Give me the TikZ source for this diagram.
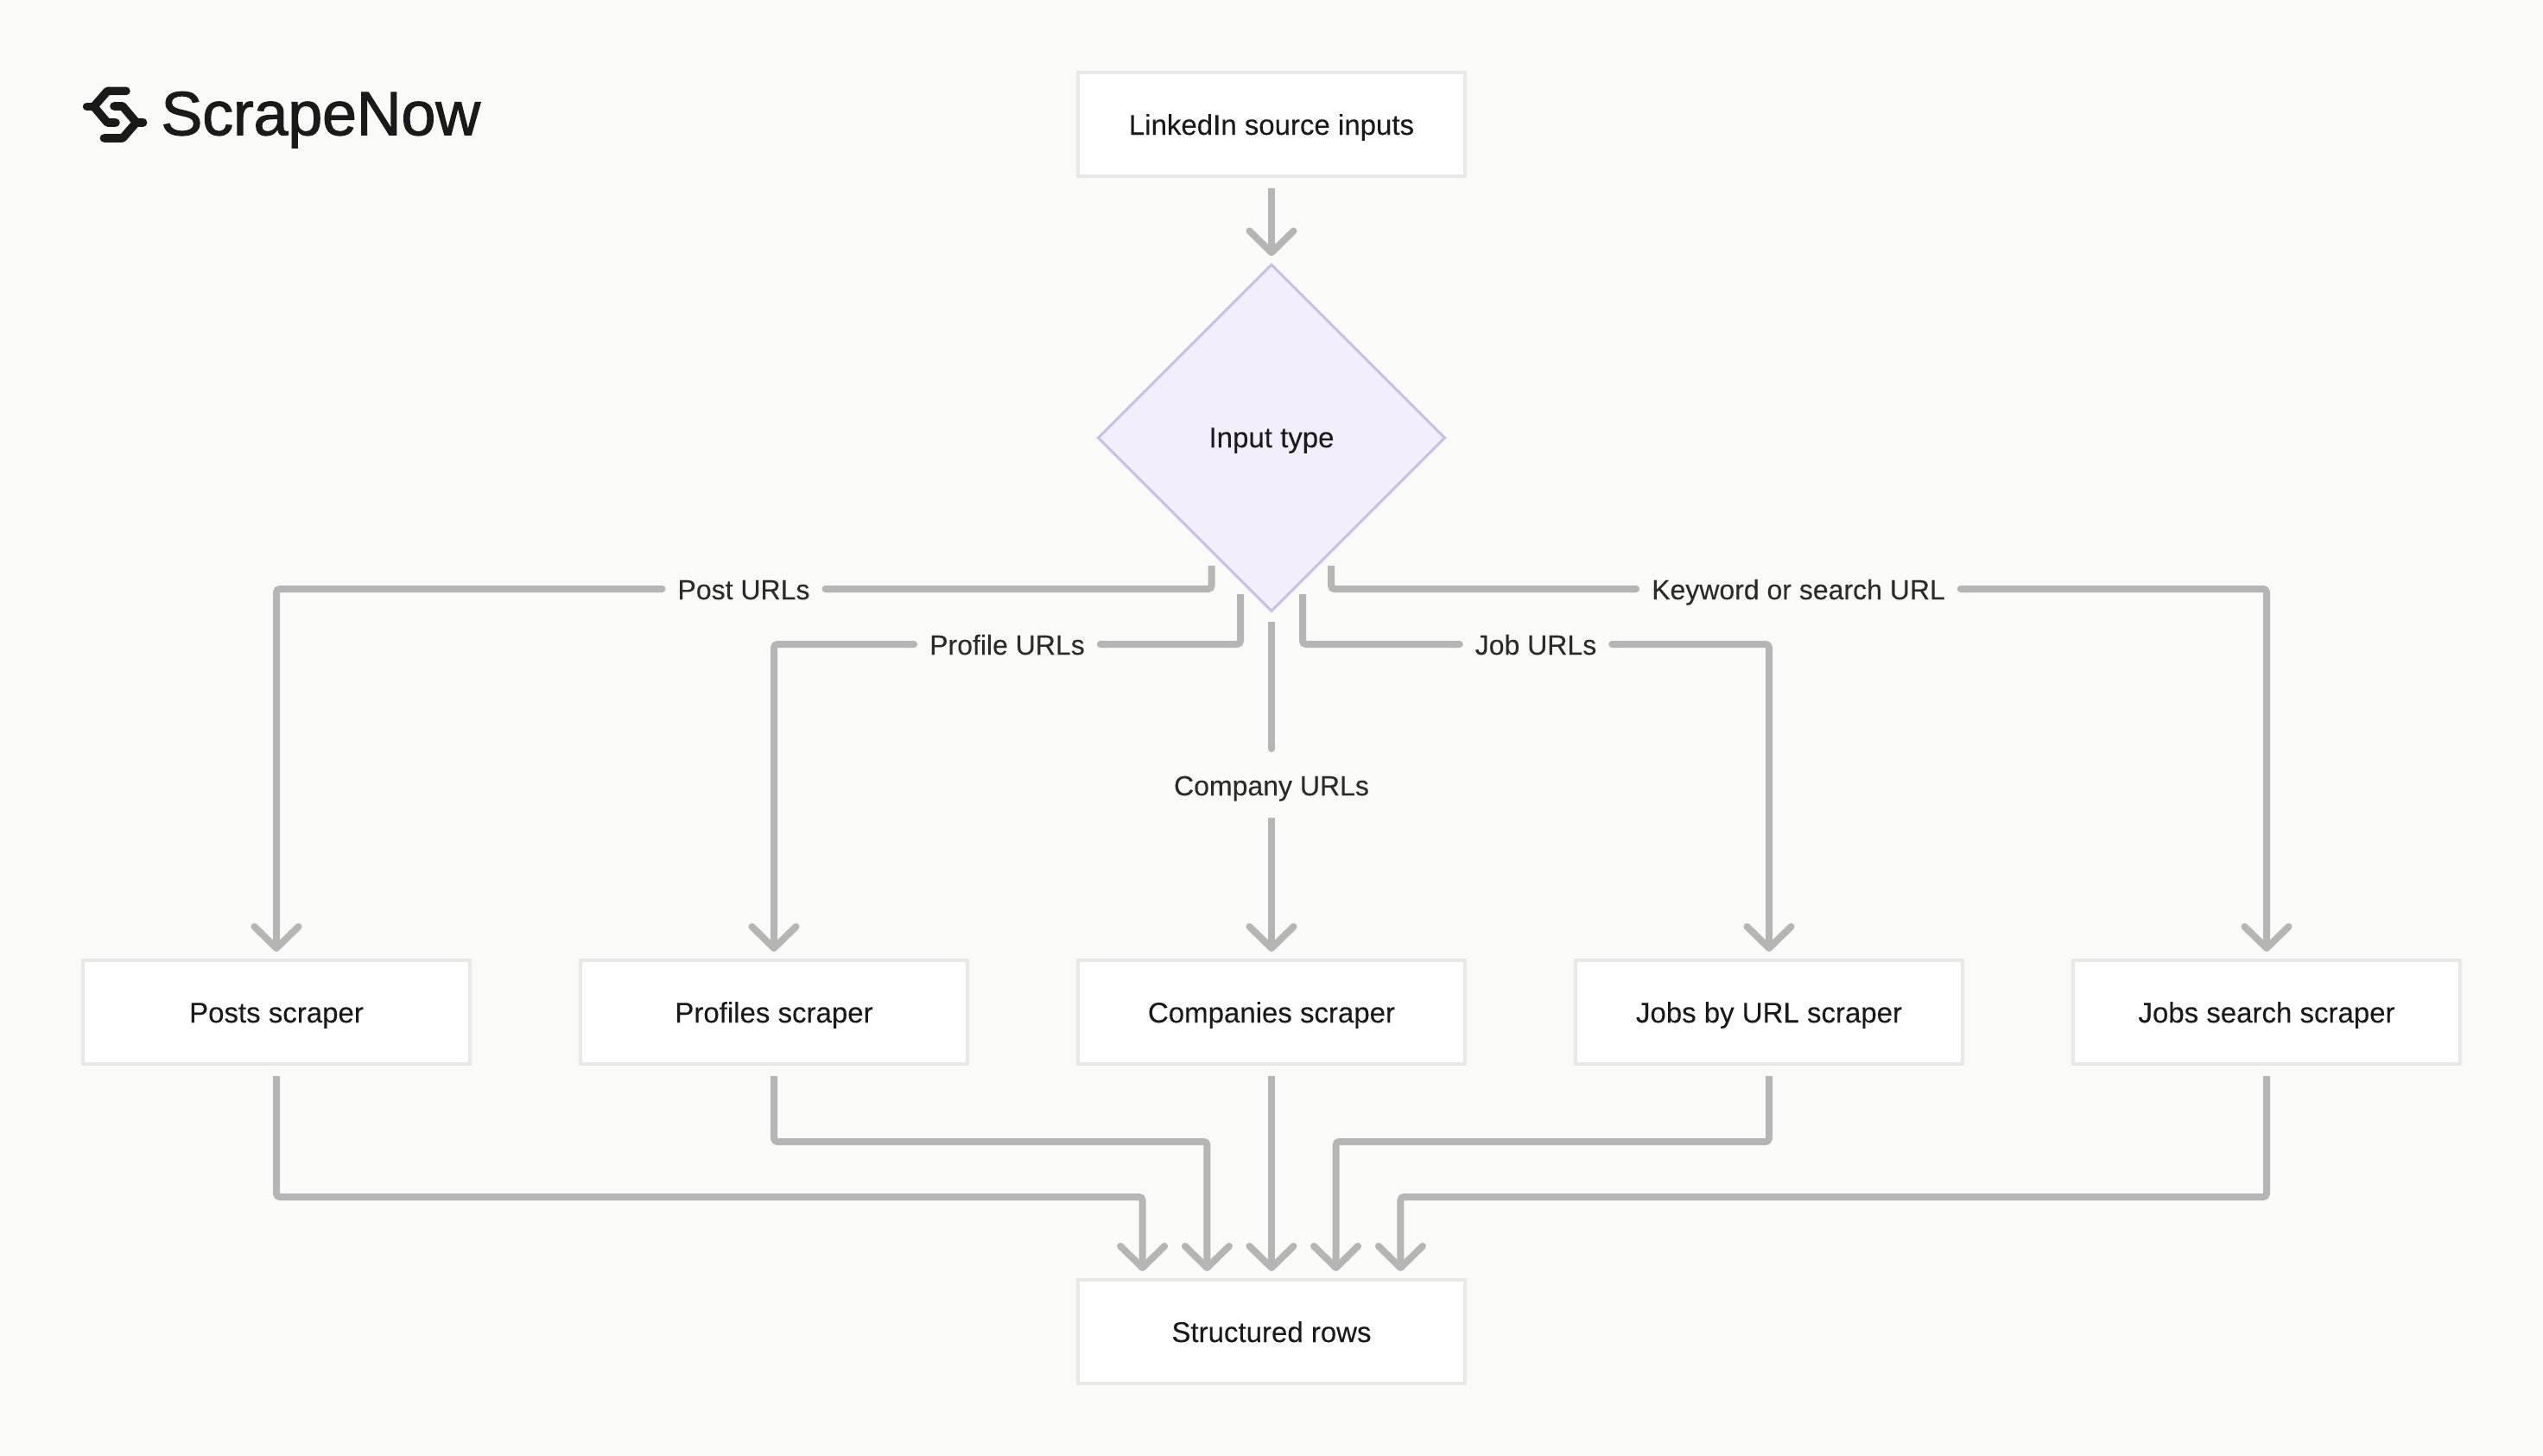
\documentclass[tikz,border=0pt]{standalone}
\usepackage{fontspec}
\setmainfont[FakeBold=0.15]{Liberation Sans}
\newfontfamily\brandfont[FakeBold=1.4,LetterSpace=-0.4]{Liberation Sans}
\usetikzlibrary{arrows.meta,shapes.geometric}

\definecolor{pagebg}{HTML}{FAFAF8}
\definecolor{boxline}{HTML}{E8E8E6}
\definecolor{wire}{HTML}{B5B5B5}
\definecolor{ink}{HTML}{1A1A1A}
\definecolor{tagink}{HTML}{2B2B2B}
\definecolor{askfill}{HTML}{F2EEFC}
\definecolor{askline}{HTML}{C8BFE2}

\tikzset{
  box/.style={draw=boxline,fill=white,line width=2pt,outer sep=0pt,
    minimum width=224pt,minimum height=60pt,text=ink,
    font=\fontsize{16.5}{20}\selectfont,text height=13.5pt,text depth=1.5pt},
  ask/.style={diamond,aspect=1,draw=askline,fill=askfill,line width=1.5pt,
    outer sep=0pt,inner sep=0pt,minimum width=200.5pt,minimum height=200.5pt,
    text=ink,font=\fontsize{16.5}{20}\selectfont,text height=13pt,text depth=2pt},
  tag/.style={text=tagink,font=\fontsize{16}{20}\selectfont,inner xsep=7pt,
    inner ysep=0pt,outer sep=0pt,text height=13pt,text depth=1pt},
  link/.style={draw=wire,line width=4pt,rounded corners=2pt},
  lead/.style={link,-{Round Cap}},
  flow/.style={link,-{Straight Barb[length=12.5pt,width=25.5pt,round]},shorten >=5pt},
  logomark/.style={draw=ink,line width=4.8pt,line cap=round,line join=round}
}

\begin{document}
\begin{tikzpicture}[x=1pt,y=-1pt,node distance=288pt]

  \fill[pagebg] (0,0) rectangle (1472,843);
  \useasboundingbox (0,0) rectangle (1472,843);

  \node[box] (input) at (736,72) {LinkedIn source inputs};
  \node[ask] (type) [below of=input,node distance=181.5pt] {Input type};

  \node[box] (companies) [below of=type,node distance=332.5pt] {Companies scraper};
  \node[box] (profiles) [left of=companies] {Profiles scraper};
  \node[box] (posts) [left of=profiles] {Posts scraper};
  \node[box] (jobsurl) [right of=companies] {Jobs by URL scraper};
  \node[box] (jobssearch) [right of=jobsurl] {Jobs search scraper};
  \node[box] (rows) [below of=companies,node distance=185pt] {Structured rows};

  \node[tag] (posttag) at (430.5,341) {Post URLs};
  \node[tag] (profiletag) at (583,373) {Profile URLs};
  \node[tag,minimum height=38pt] (companytag) at (736,454.5) {Company URLs};
  \node[tag] (jobtag) at (889,373) {Job URLs};
  \node[tag] (keywordtag) at (1041,341) {Keyword or search URL};

  \coordinate (postout) at (701.3,327.5);
  \coordinate (profileout) at (718,344);
  \coordinate (companyout) at (736,360);
  \coordinate (jobout) at (754,344);
  \coordinate (keywordout) at (770.5,327.5);

  \coordinate (busa) at (661.3,693);
  \coordinate (busb) at (698.7,661);
  \coordinate (busd) at (773.3,661);
  \coordinate (buse) at (810.7,693);
  \coordinate (ina) at (661.3,741);
  \coordinate (inb) at (698.7,741);
  \coordinate (ind) at (773.3,741);
  \coordinate (ine) at (810.7,741);

  \draw[flow,shorten <=7pt] (input) -- (type);

  \draw[lead] (postout) |- (posttag.east);
  \draw[lead] (profileout) |- (profiletag.east);
  \draw[lead] (companyout) -- (companytag.north);
  \draw[lead] (jobout) |- (jobtag.west);
  \draw[lead] (keywordout) |- (keywordtag.west);

  \draw[flow,{Round Cap}-{Straight Barb[length=12.5pt,width=25.5pt,round]}] (posttag.west) -| (posts.north);
  \draw[flow,{Round Cap}-{Straight Barb[length=12.5pt,width=25.5pt,round]}] (profiletag.west) -| (profiles.north);
  \draw[flow] (companytag.south) -- (companies.north);
  \draw[flow,{Round Cap}-{Straight Barb[length=12.5pt,width=25.5pt,round]}] (jobtag.east) -| (jobsurl.north);
  \draw[flow,{Round Cap}-{Straight Barb[length=12.5pt,width=25.5pt,round]}] (keywordtag.east) -| (jobssearch.north);

  \draw[flow,shorten <=7pt] (posts.south) |- (busa) -- (ina);
  \draw[flow,shorten <=7pt] (profiles.south) |- (busb) -- (inb);
  \draw[flow,shorten <=7pt] (companies.south) -- (rows.north);
  \draw[flow,shorten <=7pt] (jobsurl.south) |- (busd) -- (ind);
  \draw[flow,shorten <=7pt] (jobssearch.south) |- (buse) -- (ine);

  \draw[logomark] (73,52.7) -- (62.2,52.7) -- (54.3,61.7) -- (62.2,71) -- (67,71);
  \draw[logomark] (50.3,61.7) -- (54.3,61.7);
  \draw[logomark] (60.2,80) -- (71,80) -- (78.9,70.9) -- (71,61.5) -- (66,61.5);
  \draw[logomark] (78.9,70.9) -- (82.8,70.9);
  \node[anchor=base west,inner sep=0pt,text=ink,font=\brandfont\fontsize{36}{40}\selectfont] (brand) at (93,78.2) {ScrapeNow};

\end{tikzpicture}
\end{document}
